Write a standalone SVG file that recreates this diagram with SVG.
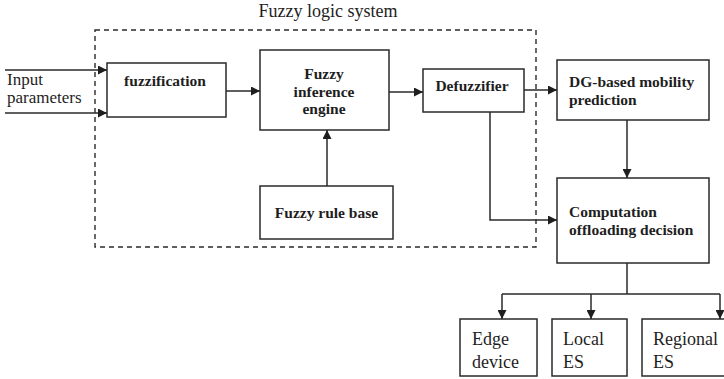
<svg xmlns="http://www.w3.org/2000/svg" width="724" height="379" viewBox="0 0 724 379">
  <style>
    .box { fill: #fff; stroke: #2a2a2a; stroke-width: 1.5; }
    .line { fill: none; stroke: #2a2a2a; stroke-width: 1.5; }
    .frame { fill: none; stroke: #2a2a2a; stroke-width: 1.4; stroke-dasharray: 5 4; }
    .b { font-family: "Liberation Serif", serif; font-weight: bold; font-size: 15.5px; fill: #1e1e1e; }
    .r { font-family: "Liberation Serif", serif; font-size: 17px; fill: #1e1e1e; }
    .rl { font-family: "Liberation Serif", serif; font-size: 18px; fill: #1e1e1e; }
  </style>
  <defs>
    <marker id="arrow" viewBox="0 0 10 10" refX="10" refY="5" markerWidth="9" markerHeight="9" markerUnits="userSpaceOnUse" orient="auto">
      <path d="M0,0 L10,5 L0,10 Z" fill="#1e1e1e"/>
    </marker>
  </defs>

  <rect fill="#fff" x="0" y="0" width="724" height="379"/>

  <!-- fuzzy logic system frame -->
  <g id="fuzzy-logic-system">
    <rect class="frame" x="95" y="30" width="441" height="217"/>
    <text class="rl" x="328" y="17" text-anchor="middle">Fuzzy logic system</text>
  </g>

  <g id="input-parameters">
    <text class="r" x="7" y="85">Input</text>
    <text class="r" x="7" y="103">parameters</text>
  </g>

  <g id="fuzzification">
    <rect class="box" x="107" y="63" width="119" height="54"/>
    <text class="b" x="165" y="86" text-anchor="middle">fuzzification</text>
  </g>

  <g id="inference-engine">
    <rect class="box" x="260" y="50" width="129" height="80"/>
    <text class="b" x="324" y="79" text-anchor="middle">Fuzzy</text>
    <text class="b" x="324" y="97" text-anchor="middle">inference</text>
    <text class="b" x="324" y="114" text-anchor="middle">engine</text>
  </g>

  <g id="rule-base">
    <rect class="box" x="260" y="186" width="133" height="53"/>
    <text class="b" x="326.5" y="218" text-anchor="middle">Fuzzy rule base</text>
  </g>

  <g id="defuzzifier">
    <rect class="box" x="423" y="69" width="101" height="43"/>
    <text class="b" x="472" y="91" text-anchor="middle">Defuzzifier</text>
  </g>

  <g id="mobility-prediction">
    <rect class="box" x="557" y="60" width="152" height="60"/>
    <text class="b" x="569" y="87">DG-based mobility</text>
    <text class="b" x="569" y="105">prediction</text>
  </g>

  <g id="offloading-decision">
    <rect class="box" x="557" y="178" width="152" height="85"/>
    <text class="b" x="569" y="217">Computation</text>
    <text class="b" x="569" y="235">offloading decision</text>
  </g>

  <g id="edge-device">
    <rect class="box" x="460" y="319" width="77" height="57"/>
    <text class="rl" x="472" y="345">Edge</text>
    <text class="rl" x="472" y="368">device</text>
  </g>

  <g id="local-es">
    <rect class="box" x="552" y="319" width="75" height="57"/>
    <text class="rl" x="563" y="345">Local</text>
    <text class="rl" x="563" y="368">ES</text>
  </g>

  <g id="regional-es">
    <rect class="box" x="642" y="319" width="90" height="57"/>
    <text class="rl" x="653" y="345">Regional</text>
    <text class="rl" x="653" y="368">ES</text>
  </g>

  <!-- connectors -->
  <g id="connectors">
    <line class="line" x1="5" y1="70" x2="107" y2="70" marker-end="url(#arrow)"/>
    <line class="line" x1="5" y1="113" x2="107" y2="113" marker-end="url(#arrow)"/>
    <line class="line" x1="226" y1="91" x2="260" y2="91" marker-end="url(#arrow)"/>
    <line class="line" x1="327" y1="186" x2="327" y2="130" marker-end="url(#arrow)"/>
    <line class="line" x1="389" y1="92" x2="423" y2="92" marker-end="url(#arrow)"/>
    <line class="line" x1="524" y1="90" x2="557" y2="90" marker-end="url(#arrow)"/>
    <line class="line" x1="627" y1="120" x2="627" y2="178" marker-end="url(#arrow)"/>
    <polyline class="line" points="490,112 490,220 557,220" marker-end="url(#arrow)"/>
    <line class="line" x1="627" y1="263" x2="627" y2="294"/>
    <line class="line" x1="502" y1="294" x2="720" y2="294"/>
    <line class="line" x1="502" y1="294" x2="502" y2="319" marker-end="url(#arrow)"/>
    <line class="line" x1="591" y1="294" x2="591" y2="319" marker-end="url(#arrow)"/>
    <line class="line" x1="720" y1="294" x2="720" y2="319" marker-end="url(#arrow)"/>
  </g>
</svg>
